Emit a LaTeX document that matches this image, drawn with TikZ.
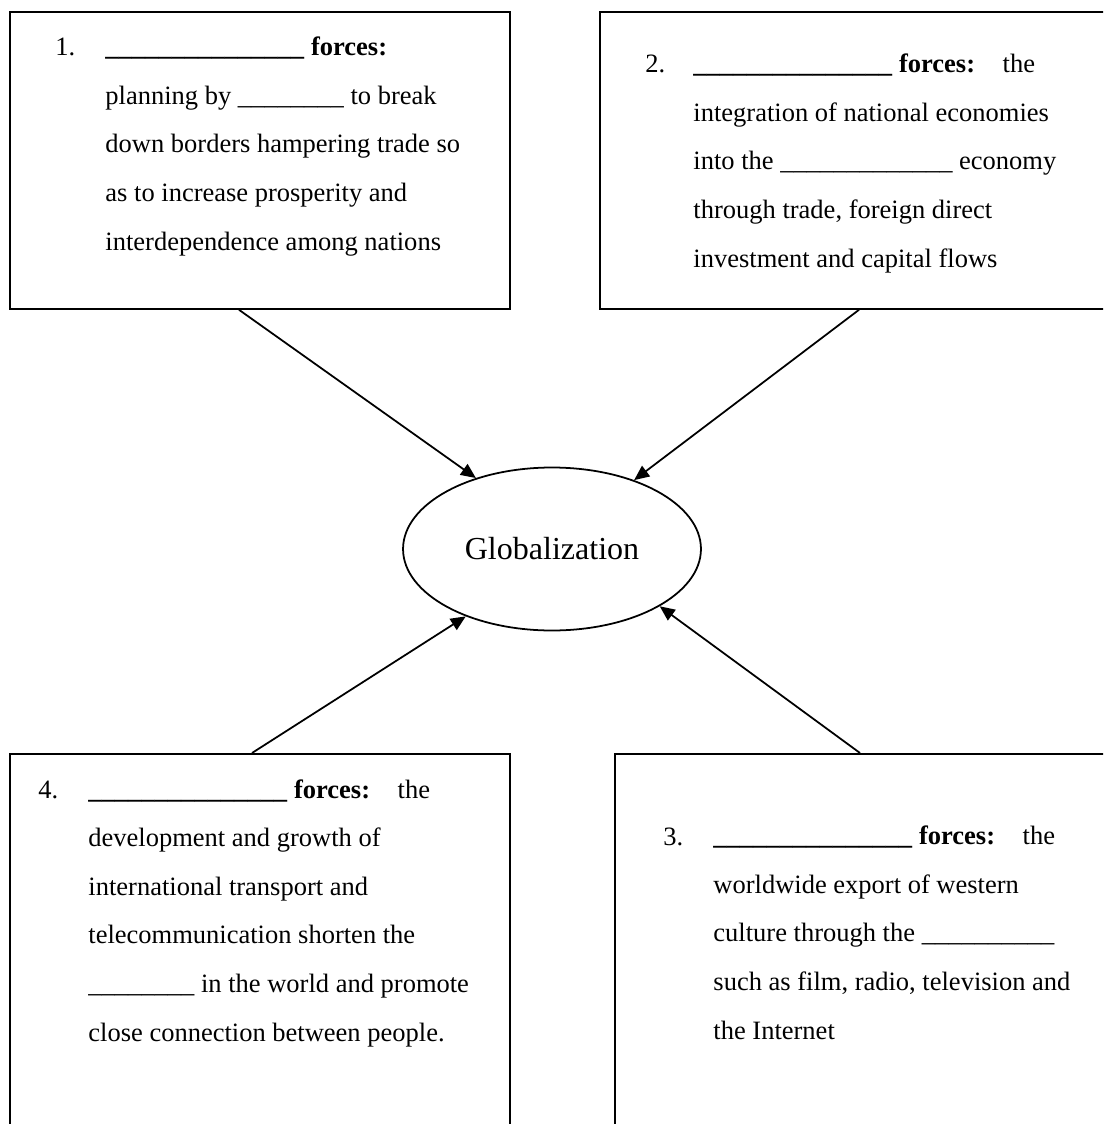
\documentclass[tikz,border=0pt]{standalone}
\usepackage{fontspec}
\setmainfont{Liberation Serif}
\usetikzlibrary{shapes.geometric,arrows.meta,calc}
\newcommand\blank{\textbf{\_\_\_\_\_\_\_\_\_\_\_\_\_\_\_}}
\tikzset{
  box/.style={draw,rectangle,line width=0.8pt,inner sep=0pt,anchor=north west},
  lbl/.style={anchor=base west,inner sep=0pt,align=left,font=\fontsize{12}{22}\selectfont},
  hub/.style={draw,ellipse,line width=0.8pt,inner sep=0pt,minimum width=134.9pt,minimum height=73.8pt,font=\fontsize{14.5}{17}\selectfont},
  feed/.style={-{Triangle[length=6.8pt,width=5.9pt]},line width=0.8pt}
}
\begin{document}
\begin{tikzpicture}[x=0.4528pt,y=-0.4528pt]
  \useasboundingbox (0,0) rectangle (1103,1124);
  \clip (0,0) rectangle (1103,1124);
  \node[box,minimum width=226.4pt,minimum height=134.5pt] (b1) at (9,11) {};
  \node[box,minimum width=233.6pt,minimum height=134.5pt] (b2) at (599,11) {};
  \node[box,minimum width=226.4pt,minimum height=173pt] (b4) at (9,753) {};
  \node[box,minimum width=226.9pt,minimum height=173pt] (b3) at (614,753) {};
  \node[hub] (glob) at (552,549) {Globalization};

  % multi-line texts sit on their last baseline
  \node[lbl] (n1) at (55,56) {1.};
  \node[lbl] (t1) at (105,250) {\blank\ \textbf{forces:}\\
    planning by \_\_\_\_\_\_\_\_ to break\\
    down borders hampering trade so\\
    as to increase prosperity and\\
    interdependence among nations};
  \node[lbl] (n2) at (645,73) {2.};
  \node[lbl] (t2) at (693,267) {\blank\ \textbf{forces:}\hspace{12.5pt}the\\
    integration of national economies\\
    into the \_\_\_\_\_\_\_\_\_\_\_\_\_ economy\\
    through trade, foreign direct\\
    investment and capital flows};
  \node[lbl] (n4) at (38,798) {4.};
  \node[lbl] (t4) at (88,1041) {\blank\ \textbf{forces:}\hspace{12.5pt}the\\
    development and growth of\\
    international transport and\\
    telecommunication shorten the\\
    \_\_\_\_\_\_\_\_ in the world and promote\\
    close connection between people.};
  \node[lbl] (n3) at (663,845) {3.};
  \node[lbl] (t3) at (713,1039) {\blank\ \textbf{forces:}\hspace{12.5pt}the\\
    worldwide export of western\\
    culture through the \_\_\_\_\_\_\_\_\_\_\\
    such as film, radio, television and\\
    the Internet};

  \draw[feed] ($(b1.south west)+(230,0)$) -- (glob.137);
  \draw[feed] ($(b2.south west)+(260,0)$) -- (glob.40);
  \draw[feed] ($(b4.north west)+(243,0)$) -- (glob.218);
  \draw[feed] ($(b3.north west)+(246,0)$) -- (glob.332);
\end{tikzpicture}
\end{document}
